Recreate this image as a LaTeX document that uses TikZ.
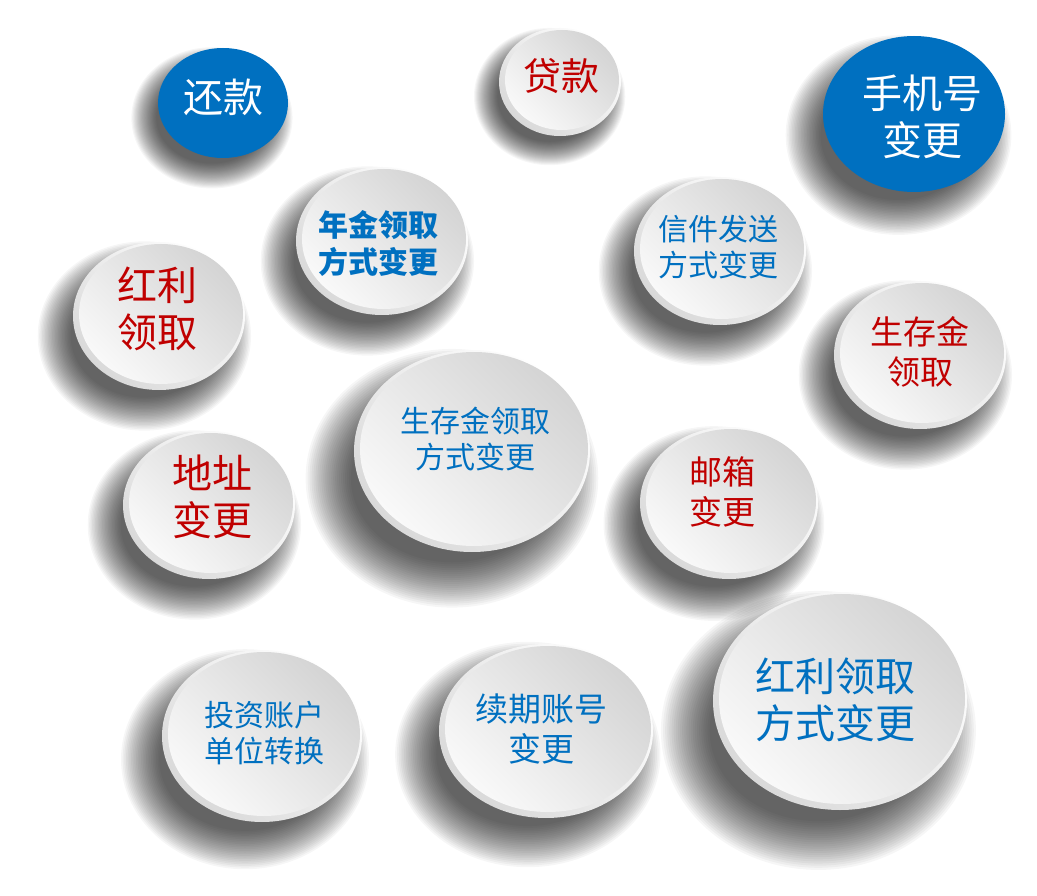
\documentclass[tikz,border=0pt]{standalone}
\usepackage{fontspec}
\newfontfamily\cjk{Noto Sans CJK SC}
\definecolor{dblue}{HTML}{0070C0}
\definecolor{dred}{HTML}{C00000}
\definecolor{rimc}{HTML}{D9D9D9}
\definecolor{facetop}{HTML}{D4D4D4}
\definecolor{facebot}{HTML}{F9F9F9}
\newcommand\shadowdisc[4]{%
  \pgfmathsetmacro\sdx{0.17*#3}%
  \pgfmathsetmacro\sdy{0.27*#4}%
  \pgfmathsetmacro\sb{0.24*#3}%
  \foreach \i in {0,...,23}{%
    \pgfmathsetmacro\rr{\sb*(1-1.6*\i/23)}%
    \fill[black,opacity=0.037] (#1-\sdx,#2+\sdy) ellipse [x radius={(#3+\rr)*1pt}, y radius={(#4+\rr)*1pt}];
  }}
\newcommand\whitedisc[4]{%
  \shade[top color=white,bottom color=rimc,shading angle=-45] (#1,#2) ellipse [x radius={#3pt}, y radius={#4pt}];
  \shade[top color=facetop,bottom color=facebot,shading angle=-45] (#1+2,#2-2) ellipse [x radius={(#3-4)*1pt}, y radius={(#4-4)*1pt}];}
\newcommand\bluedisc[4]{%
  \fill[dblue] (#1,#2) ellipse [x radius={#3pt}, y radius={#4pt}];}
\tikzset{
  lbl/.style={align=center, inner sep=0pt},
  fXL/.style={font=\cjk\fontsize{40}{47}\selectfont},
  fL/.style={font=\cjk\fontsize{38}{45}\selectfont},
  fM/.style={font=\cjk\fontsize{33}{40}\selectfont},
  fS/.style={font=\cjk\fontsize{30}{36}\selectfont},
  fSB/.style={font=\cjk\bfseries\fontsize{30}{37}\selectfont},
}
\begin{document}
\begin{tikzpicture}[x=1pt,y=-1pt]
\useasboundingbox (0,0) rectangle (1037,896);
\fill[white] (0,0) rectangle (1037,896);
% shadows
\shadowdisc{223}{103}{65}{55}
\shadowdisc{560}{82}{61}{54}
\shadowdisc{914}{114}{91}{78}
\shadowdisc{382}{241}{86}{74}
\shadowdisc{159}{316}{86}{74}
\shadowdisc{720}{251}{86}{74}
\shadowdisc{920}{355}{86}{74}
\shadowdisc{472}{451}{118}{101}
\shadowdisc{209}{505}{86}{74}
\shadowdisc{729}{503}{89}{76}
\shadowdisc{262}{736}{100}{86}
\shadowdisc{546}{731}{107}{87}
\shadowdisc{840}{701}{127}{109}
% discs
\bluedisc{223}{103}{65}{55}
\whitedisc{560}{82}{61}{54}
\bluedisc{914}{114}{91}{78}
\whitedisc{382}{241}{86}{74}
\whitedisc{159}{316}{86}{74}
\whitedisc{720}{251}{86}{74}
\whitedisc{920}{355}{86}{74}
\whitedisc{472}{451}{118}{101}
\whitedisc{209}{505}{86}{74}
\whitedisc{729}{503}{89}{76}
\whitedisc{262}{736}{100}{86}
\whitedisc{546}{731}{107}{87}
\whitedisc{840}{701}{127}{109}
% labels
\node[lbl,fXL,text=white] (huankuan) at (223,97) {还款};
\node[lbl,fL,text=dred] (daikuan) at (561,76) {贷款};
\node[lbl,fXL,text=white] (shouji) at (922,117) {手机号\\变更};
\node[lbl,fSB,text=dblue] (nianjin) at (378,243) {年金领取\\方式变更};
\node[lbl,fXL,text=dred] (hongli) at (157,309) {红利\\领取};
\node[lbl,fS,text=dblue] (xinjian) at (718,247) {信件发送\\方式变更};
\node[lbl,fM,text=dred] (shengcun) at (920,352) {生存金\\领取};
\node[lbl,fS,text=dblue] (shengcunfs) at (475,439) {生存金领取\\方式变更};
\node[lbl,fXL,text=dred] (dizhi) at (212,497) {地址\\变更};
\node[lbl,fM,text=dred] (youxiang) at (722,492) {邮箱\\变更};
\node[lbl,fS,text=dblue] (touzi) at (264,733) {投资账户\\单位转换};
\node[lbl,fM,text=dblue] (xuqi) at (541,729) {续期账号\\变更};
\node[lbl,fXL,text=dblue] (honglifs) at (835,700) {红利领取\\方式变更};
\end{tikzpicture}
\end{document}
